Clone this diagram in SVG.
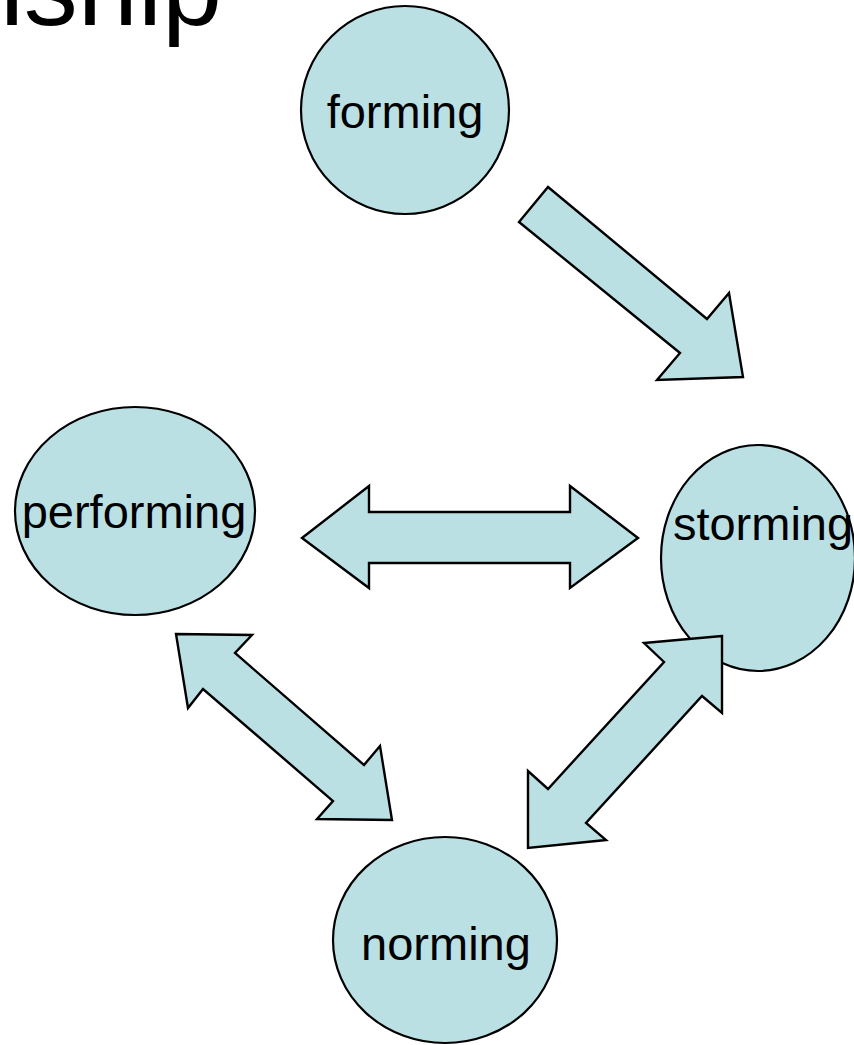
<svg xmlns="http://www.w3.org/2000/svg" width="854" height="1045" viewBox="0 0 854 1045">
  <style>
    .node { fill: #BBE0E3; stroke: #000; stroke-width: 2.2; }
    .arrow { fill: #BBE0E3; stroke: #000; stroke-width: 2.4; stroke-linejoin: miter; }
    .label { font-family: "Liberation Sans", Arial, sans-serif; font-size: 47px; fill: #000; text-anchor: middle; }
    .title { font-family: "Liberation Sans", Arial, sans-serif; font-size: 108px; fill: #000; text-anchor: end; }
  </style>
  <rect width="854" height="1045" fill="#fff"/>
  <text class="title" x="222" y="25">Relationship</text>

  <g id="node-forming">
    <ellipse class="node" cx="405" cy="110" rx="104" ry="104"/>
    <text class="label" x="405" y="128">forming</text>
  </g>
  <g id="node-performing">
    <ellipse class="node" cx="135" cy="511" rx="120" ry="104"/>
    <text class="label" x="134" y="528">performing</text>
  </g>
  <g id="node-storming">
    <ellipse class="node" cx="758" cy="558" rx="97" ry="113"/>
    <text class="label" x="763" y="540">storming</text>
  </g>
  <g id="node-norming">
    <ellipse class="node" cx="445" cy="940" rx="112" ry="103"/>
    <text class="label" x="446" y="960">norming</text>
  </g>

  <g id="connectors">
    <polygon class="arrow" points="548,187 707,319 729,293 743,377 657,380 680,353 519,222"/>
    <polygon class="arrow" points="302,538 369,486 369,512 570,512 570,486 638,538 570,588 570,563 369,563 369,588"/>
    <polygon class="arrow" points="176,634 252,635 235,653 364,765 380,746 392,820 317,819 333,801 203,689 188,708"/>
    <polygon class="arrow" points="722,636 644,643 664,662 548,789 528,771 528,848 606,840 586,823 702,696 722,713"/>
  </g>
</svg>
